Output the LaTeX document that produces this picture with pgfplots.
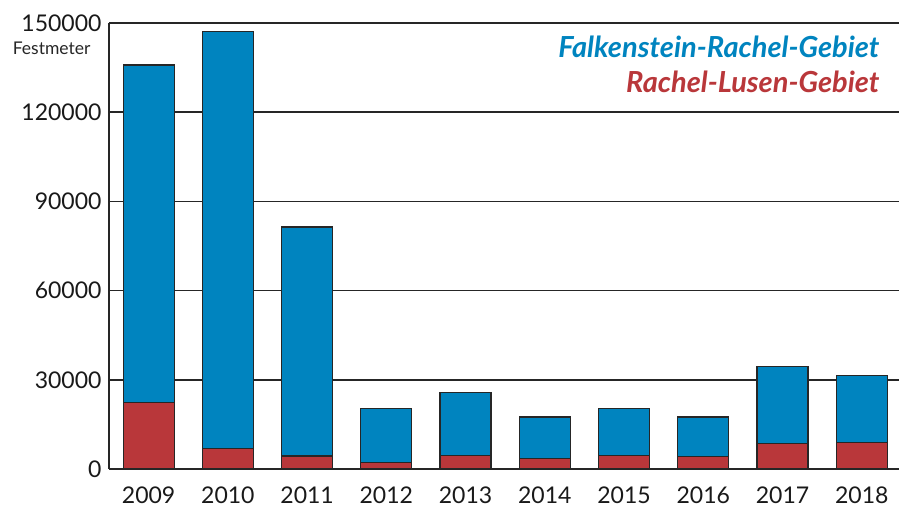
\documentclass[border=0pt]{standalone}
\usepackage{pgfplots}
\pgfplotsset{compat=1.18}
\usepackage{fontspec}
\setmainfont{Lato}
\definecolor{frblue}{RGB}{0,132,191}
\definecolor{rlred}{RGB}{185,55,58}

\pgfplotstableread{
x year red blue
0 2009 22400 113500
1 2010 7000 140200
2 2011 4400 77000
3 2012 2250 18150
4 2013 4480 21300
5 2014 3600 13900
6 2015 4480 15900
7 2016 4270 13230
8 2017 8520 25900
9 2018 8850 22650
}\datatable

\begin{document}
\begin{tikzpicture}[x=1pt,y=1pt]
\begin{axis}[
  at={(0,0)}, anchor=south west,
  scale only axis, width=790pt, height=446pt,
  ybar stacked, bar width=51pt,
  xmin=-0.5, xmax=9.47, ymin=0, ymax=150000,
  xtick=data, xticklabels={2009,2010,2011,2012,2013,2014,2015,2016,2017,2018},
  ytick={0,30000,60000,90000,120000,150000},
  scaled y ticks=false,
  /pgf/number format/assume math mode=true,
  yticklabel={\pgfmathprintnumber[fixed,1000 sep={}]{\tick}},
  axis lines=left, axis line style={-, black!85, line width=1.6pt},
  x axis line style={draw=none},
  ymajorgrids, grid style={black!85, line width=1.6pt},
  major tick length=0pt,
  tick label style={font=\fontsize{23}{26}\selectfont, text=black!90},
  yticklabel style={xshift=-4pt},
  xticklabel style={yshift=-14pt},
  every axis plot/.append style={draw=black!85, line width=1.2pt},
]
  \addplot[fill=rlred] table[x=x,y=red]{\datatable};
  \addplot[fill=frblue] table[x=x,y=blue]{\datatable};
\end{axis}
\node[anchor=east, font=\fontsize{17.5}{20}\selectfont, text=black!85] at (-15,421) {Festmeter};
\node[anchor=base east, font=\fontsize{29}{32}\selectfont\bfseries\itshape, text=frblue] at (774,411) {Falkenstein-Rachel-Gebiet};
\node[anchor=base east, font=\fontsize{29}{32}\selectfont\bfseries\itshape, text=rlred] at (774,376) {Rachel-Lusen-Gebiet};
\path[use as bounding box] (-109,-42) rectangle (794,469);
\end{tikzpicture}
\end{document}
